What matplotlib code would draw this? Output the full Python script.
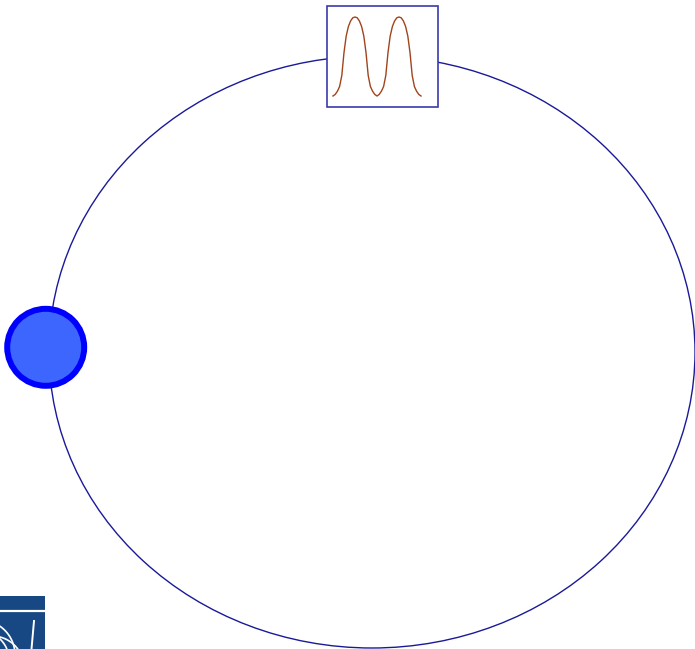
import numpy as np
import matplotlib
matplotlib.use('Agg')
import matplotlib.pyplot as plt
from matplotlib.patches import Ellipse, Circle, Rectangle

# orbit ellipse (pixel space)
orbit_center = (372, 352)
orbit_size = (646, 592)

# node on the orbit
node_center = (45.7, 347.3)
node_radius = 38.5

# inset box with the signal
box_xy = (327, 6)
box_size = (111, 101)

# signal samples (two peaks, 0 = bottom, 1 = top)
rise = [0.0, 0.02, 0.06, 0.12, 0.26, 0.55, 0.76, 0.88, 0.95, 0.99, 1.0]
signal = rise + rise[-2::-1] + rise[1:] + rise[-2::-1]

fig = plt.figure(figsize=(6.95, 6.49), dpi=100)
ax = fig.add_axes([0, 0, 1, 1])
ax.set_xlim(0, 695)
ax.set_ylim(649, 0)
ax.axis('off')

ax.add_patch(Ellipse(orbit_center, *orbit_size, fill=False, edgecolor='#1a1a99', lw=1.0))

ax.add_patch(Circle(node_center, node_radius, facecolor='#3d66ff', edgecolor='#0000ff', lw=4.3, zorder=3))

ax.add_patch(Rectangle(box_xy, *box_size, facecolor='white', edgecolor='#3a3ab0', lw=1.2, zorder=3))
sx = np.linspace(333, 421, len(signal))
sy = 96 - 79 * np.array(signal)
ax.plot(sx, sy, color='#a0441c', lw=1.0, zorder=4)

# cropped logo in the corner
ax.add_patch(Rectangle((0, 596), 45, 53, facecolor='#174884', edgecolor='none', zorder=5))
ax.plot([0, 45], [611, 611], color='white', lw=1.6, zorder=6)
for cx, cy, r in [(-20, 655, 35), (-20, 660, 29), (-8, 668, 32)]:
    th = np.linspace(-np.pi / 2, 0.3, 60)
    ax.plot(cx + r * np.cos(th), cy + r * np.sin(th), color='white', lw=1.2, zorder=6)
ax.plot([34, 31.5], [621, 649], color='white', lw=1.4, zorder=6)
ax.set_xlim(0, 695)
ax.set_ylim(649, 0)

fig.savefig('out.png', dpi=100)
